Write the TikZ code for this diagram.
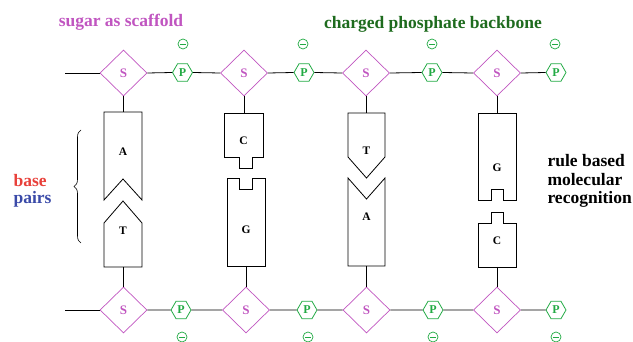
\documentclass[tikz,border=0pt]{standalone}
\usepackage{fontspec}
\setmainfont{Liberation Serif}
\usetikzlibrary{shapes.geometric,decorations.pathreplacing}
\definecolor{sug}{HTML}{C055C0}
\definecolor{pho}{HTML}{22AA44}
\definecolor{dgreen}{HTML}{1E6B1E}
\definecolor{bred}{HTML}{E8403A}
\definecolor{pblue}{HTML}{3A4AA8}
\begin{document}
\begin{tikzpicture}[x=1pt,y=-1pt,
  sugarnode/.style={diamond, draw=sug, text=sug, inner sep=0pt, minimum width=47pt, minimum height=46pt, line width=0.7pt, font=\bfseries\fontsize{13}{13}\selectfont},
  phosnode/.style={regular polygon, regular polygon sides=6, draw=pho, text=pho, inner sep=0pt, minimum size=20pt, line width=0.8pt, font=\bfseries\fontsize{12}{12}\selectfont},
  minusnode/.style={circle, draw=pho, inner sep=0pt, minimum size=10pt, line width=0.7pt, path picture={\draw[pho, line width=0.8pt] ([xshift=-3pt]path picture bounding box.center) -- ([xshift=3pt]path picture bounding box.center);}},
  bb/.style={line width=0.8pt},
  basepath/.style={draw, bb, fill=white},
  blabel/.style={font=\bfseries\fontsize{11.5}{11.5}\selectfont},
  ttl/.style={font=\bfseries\fontsize{17.5}{17.5}\selectfont},
  link/.style={bb}]
\useasboundingbox (0,0) rectangle (633,342);

% titles
\node[ttl, text=sug] (t1) at (121,22) {sugar as scaffold};
\node[ttl, text=dgreen] (t2) at (433,24) {charged phosphate backbone};
\node[ttl, text=bred, anchor=west] (t3) at (10,181) {base};
\node[ttl, text=pblue, anchor=west] (t4) at (10,199) {pairs};
\node[anchor=west, align=left, font=\bfseries\fontsize{17.5}{18.5}\selectfont] (t5) at (544,181) {rule based\\molecular\\recognition};

% top backbone
\coordinate (tl) at (65,73);
\node[sugarnode] (s1) at (123.5,73) {S};
\node[phosnode] (p1) at (182.5,72.5) {P};
\node[sugarnode] (s2) at (244,73) {S};
\node[phosnode] (p2) at (304,72.5) {P};
\node[sugarnode] (s3) at (366,73) {S};
\node[phosnode] (p3) at (432,72.5) {P};
\node[sugarnode] (s4) at (497,73) {S};
\node[phosnode] (p4) at (556,72.5) {P};
\node[minusnode] (m1) at (183,44) {};
\node[minusnode] (m2) at (303,44) {};
\node[minusnode] (m3) at (432,44) {};
\node[minusnode] (m4) at (555,44) {};
\draw[link] (tl) -- (s1.west);
\draw[link] (s1.east) -- (p1.west);
\draw[link] (p1.east) -- (s2.west);
\draw[link] (s2.east) -- (p2.west);
\draw[link] (p2.east) -- (s3.west);
\draw[link] (s3.east) -- (p3.west);
\draw[link] (p3.east) -- (s4.west);
\draw[link] (s4.east) -- (p4.west);

% bottom backbone
\coordinate (bl) at (65,310);
\node[sugarnode] (u1) at (123.5,310) {S};
\node[phosnode] (q1) at (181,310) {P};
\node[sugarnode] (u2) at (246,310) {S};
\node[phosnode] (q2) at (307,310) {P};
\node[sugarnode] (u3) at (366.5,310) {S};
\node[phosnode] (q3) at (433,310) {P};
\node[sugarnode] (u4) at (497,310) {S};
\node[phosnode] (q4) at (556,310) {P};
\node[minusnode] (n1) at (182,337) {};
\node[minusnode] (n2) at (308,337) {};
\node[minusnode] (n3) at (433,337) {};
\node[minusnode] (n4) at (556,337) {};
\draw[link] (bl) -- (u1.west);
\draw[link] (u1.east) -- (q1.west);
\draw[link] (q1.east) -- (u2.west);
\draw[link] (u2.east) -- (q2.west);
\draw[link] (q2.east) -- (u3.west);
\draw[link] (u3.east) -- (q3.west);
\draw[link] (q3.east) -- (u4.west);
\draw[link] (u4.east) -- (q4.west);

% column 1: A - T
\draw[basepath] (104,112) -- (142,112) -- (142,200) -- (123,179) -- (104,200) -- cycle;
\draw[basepath] (104,267) -- (104,223) -- (123,201) -- (142,223) -- (142,267) -- cycle;
\node[blabel] (a1) at (123,152) {A};
\node[blabel] (a2) at (123,231) {T};
\coordinate (c1t) at (123.5,112);
\coordinate (c1b) at (123.5,267);

% column 2: C - G
\draw[basepath] (224,113) -- (263,113) -- (263,157) -- (252,157) -- (252,168) -- (239,168) -- (239,157) -- (224,157) -- cycle;
\draw[basepath] (227,178) -- (239,178) -- (239,189) -- (252,189) -- (252,178) -- (265,178) -- (265,266) -- (227,266) -- cycle;
\node[blabel] (b1) at (243.5,141) {C};
\node[blabel] (b2) at (246,230) {G};
\coordinate (c2t) at (244,113);
\coordinate (c2b) at (246,266);

% column 3: T - A
\draw[basepath] (348,113) -- (385,113) -- (385,157) -- (366.5,178) -- (348,157) -- cycle;
\draw[basepath] (348,178) -- (366.5,199) -- (385,178) -- (385,266) -- (348,266) -- cycle;
\node[blabel] (d1) at (366.5,151) {T};
\node[blabel] (d2) at (366.5,217) {A};
\coordinate (c3t) at (366,113);
\coordinate (c3b) at (366.5,266);

% column 4: G - C
\draw[basepath] (478,113) -- (516,113) -- (516,200) -- (503,200) -- (503,189) -- (491,189) -- (491,200) -- (478,200) -- cycle;
\draw[basepath] (478,223) -- (491,223) -- (491,212) -- (503,212) -- (503,223) -- (516,223) -- (516,267) -- (478,267) -- cycle;
\node[blabel] (e1) at (497,168) {G};
\node[blabel] (e2) at (497,241) {C};
\coordinate (c4t) at (497,113);
\coordinate (c4b) at (497,267);

% stems
\draw[link] (s1.south) -- (c1t);
\draw[link] (s2.south) -- (c2t);
\draw[link] (s3.south) -- (c3t);
\draw[link] (s4.south) -- (c4t);
\draw[link] (c1b) -- (u1.north);
\draw[link] (c2b) -- (u2.north);
\draw[link] (c3b) -- (u3.north);
\draw[link] (c4b) -- (u4.north);

% brace
\draw[line width=0.6pt, decorate, decoration={brace, amplitude=7pt}] (81,243) -- (81,130);
\end{tikzpicture}
\end{document}
